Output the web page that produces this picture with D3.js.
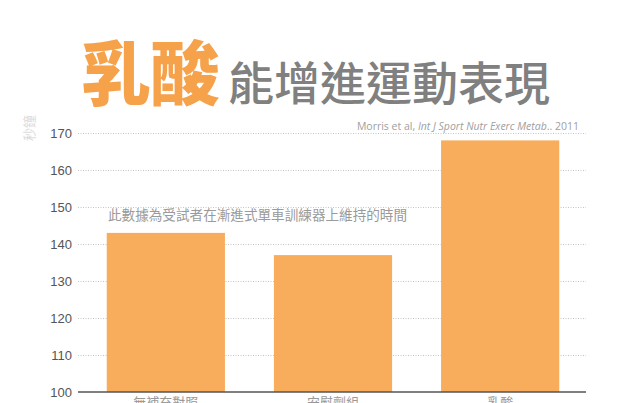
<!DOCTYPE html>
<html><head><meta charset="utf-8">
<script src="https://cdn.jsdelivr.net/npm/d3@7"></script>
<style>
html,body{margin:0;padding:0;background:#fff;}
svg{display:block;}
</style></head>
<body>
<div id="chart"></div>
<script>
const categories = ["無補充對照", "安慰劑組", "乳酸"];
const values = [143, 137, 168];
const yTicks = [100, 110, 120, 130, 140, 150, 160, 170];

const W = 640, H = 403;
const svg = d3.select("#chart").append("svg").attr("width", W).attr("height", H);

const x = d3.scaleBand().domain(categories).range([80, 586]).paddingInner(0.293).paddingOuter(0.16);
const y = d3.scaleLinear().domain([100, 170]).range([392, 133]);

// Title
const title = svg.append("text").attr("x", 81).attr("y", 100)
  .style("font-family", "'Noto Sans CJK TC','Noto Sans CJK SC',sans-serif");
title.append("tspan").text("乳酸")
  .style("font-size", "70px").style("font-weight", 900).attr("fill", "#F6A24B")
  .attr("letter-spacing", "-1px");
title.append("tspan").text("能增進運動表現").attr("dx", 9)
  .style("font-size", "46px").style("font-weight", 500).attr("fill", "#808080");

// gridlines
svg.append("g").selectAll("line").data(yTicks.filter(d => d > 100)).join("line")
  .attr("x1", 78).attr("x2", 586)
  .attr("y1", d => y(d) + 0.5).attr("y2", d => y(d) + 0.5)
  .attr("stroke", "#c4c4c4").attr("stroke-width", 1).attr("stroke-dasharray", "1,1.5");

// y axis labels
const yAxis = d3.axisLeft(y).tickValues(yTicks).tickSize(0).tickPadding(0);
const gy = svg.append("g").attr("transform", "translate(72,0)").call(yAxis);
gy.select(".domain").remove();
gy.selectAll("text").style("font-family", "'Liberation Sans', Arial, sans-serif")
  .style("font-size", "13px").attr("fill", "#555").attr("dy", "0.35em");

// y axis title
svg.append("text").text("秒鐘")
  .attr("transform", "translate(34,128) rotate(-90)")
  .attr("text-anchor", "middle")
  .style("font-family", "'Noto Sans CJK TC',sans-serif").style("font-size", "13px")
  .attr("fill", "#dcdcdc");

// bars
svg.append("g").selectAll("rect").data(values).join("rect")
  .attr("x", (d, i) => x(categories[i]))
  .attr("width", x.bandwidth())
  .attr("y", d => y(d))
  .attr("height", d => y(100) - y(d))
  .attr("fill", "#F8AD5D");

// baseline
svg.append("line").attr("x1", 78).attr("x2", 586)
  .attr("y1", y(100)).attr("y2", y(100))
  .attr("stroke", "#555").attr("stroke-width", 1.5);

// category labels (mostly cut off at the bottom edge, as in the source)
const xAxis = d3.axisBottom(x).tickSize(0).tickPadding(0);
const gx = svg.append("g").attr("transform", `translate(0,${y(100) + 6})`).call(xAxis);
gx.select(".domain").remove();
gx.selectAll("text").style("font-family", "'Noto Sans CJK TC',sans-serif")
  .style("font-size", "13px").attr("fill", "#999").attr("dy", "0.71em");

// citation
const cite = svg.append("text").attr("x", 579).attr("y", 130).attr("text-anchor", "end")
  .style("font-family", "'Open Sans', sans-serif").style("font-size", "10.5px").attr("fill", "#a0a0a0");
cite.append("tspan").text("Morris et al, ");
cite.append("tspan").text("Int J Sport Nutr Exerc Metab").style("font-style", "italic");
cite.append("tspan").text(".. 2011");

// annotation
svg.append("text").text("此數據為受試者在漸進式單車訓練器上維持的時間")
  .attr("x", 108).attr("y", 220)
  .style("font-family", "'Noto Sans CJK TC',sans-serif").style("font-size", "13.6px")
  .attr("fill", "#9a9a9a");
</script>
</body></html>
